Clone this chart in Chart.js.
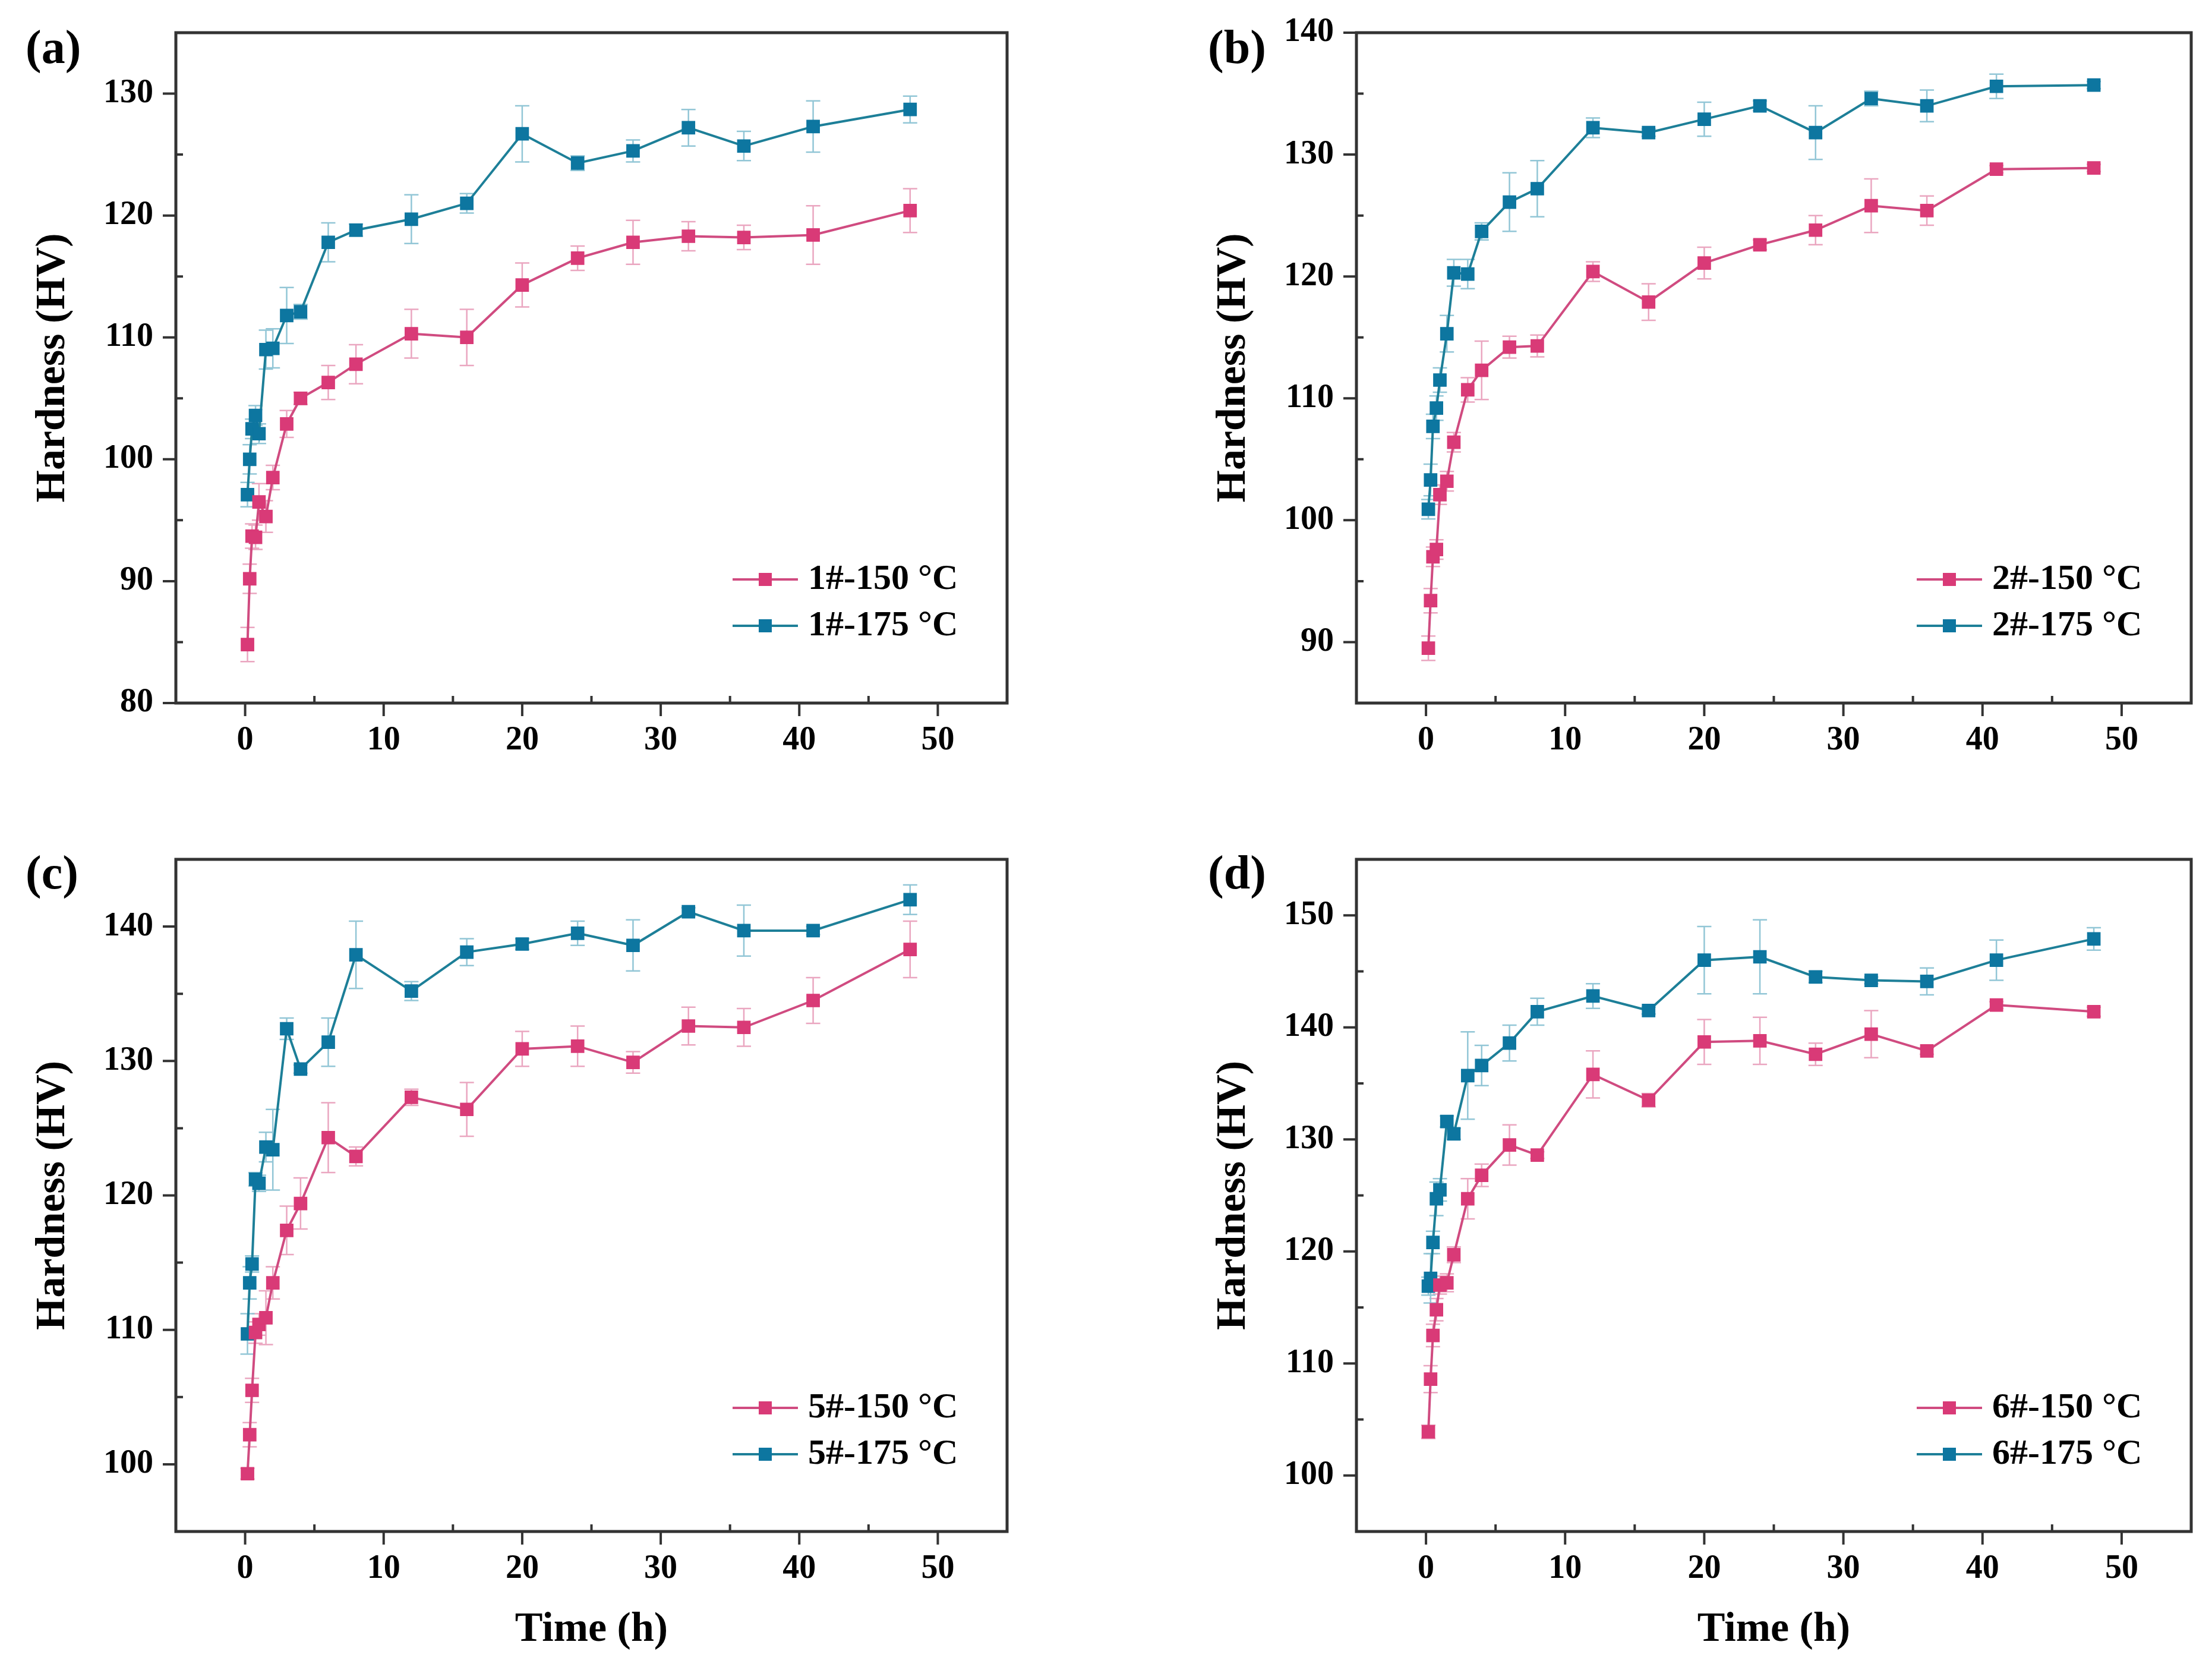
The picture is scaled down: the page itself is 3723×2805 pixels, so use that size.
<!DOCTYPE html>
<html>
<head>
<meta charset="utf-8">
<script src="https://cdn.jsdelivr.net/npm/chart.js@4.4.1/dist/chart.umd.min.js"></script>
<style>
  body { margin: 0; background: #fff; width: 3723px; height: 2805px; position: relative; overflow: hidden; }
  canvas { position: absolute; }
  .tag { position: absolute; font: bold 80px "Liberation Serif", serif; line-height: 80px; color: #000; }
</style>
</head>
<body>
<div class="tag" style="left:43px; top:39px;">(a)</div>
<div class="tag" style="left:2033px; top:39px;">(b)</div>
<div class="tag" style="left:43px; top:1428px;">(c)</div>
<div class="tag" style="left:2033px; top:1428px;">(d)</div>

<canvas id="chartA" width="1800" height="1400" style="left:0; top:0;"></canvas>
<canvas id="chartB" width="1736" height="1400" style="left:1987px; top:0;"></canvas>
<canvas id="chartC" width="1800" height="1405" style="left:0; top:1400px;"></canvas>
<canvas id="chartD" width="1736" height="1405" style="left:1987px; top:1400px;"></canvas>

<script>
// aging time (h), shared by all panels
const times = [0.17, 0.33, 0.5, 0.75, 1, 1.5, 2, 3, 4, 6, 8, 12, 16, 20, 24, 28, 32, 36, 41, 48];
const xTicks = [0, 10, 20, 30, 40, 50];

// (a) alloy 1#
const a150 = [84.8, 90.2, 93.7, 93.6, 96.5, 95.3, 98.5, 102.9, 105.0, 106.3, 107.8, 110.3, 110.0, 114.3, 116.5, 117.8, 118.3, 118.2, 118.4, 120.4];
const a150Err = [1.4, 1.2, 1.0, 1.0, 1.5, 1.3, 1.0, 1.1, 0.5, 1.4, 1.6, 2.0, 2.3, 1.8, 1.0, 1.8, 1.2, 1.0, 2.4, 1.8];
const a175 = [97.1, 100.0, 102.5, 103.6, 102.1, 109.0, 109.1, 111.8, 112.1, 117.8, 118.8, 119.7, 121.0, 126.7, 124.3, 125.3, 127.2, 125.7, 127.3, 128.7];
const a175Err = [1.0, 1.2, 0.8, 0.8, 0.8, 1.6, 1.6, 2.3, 0.6, 1.6, 0.5, 2.0, 0.8, 2.3, 0.6, 0.9, 1.5, 1.2, 2.1, 1.1];
const aTicks = [80, 90, 100, 110, 120, 130];

// (b) alloy 2#
const b150 = [89.5, 93.4, 97.0, 97.6, 102.1, 103.2, 106.4, 110.7, 112.3, 114.2, 114.3, 120.4, 117.9, 121.1, 122.6, 123.8, 125.8, 125.4, 128.8, 128.9];
const b150Err = [1.0, 1.0, 0.8, 0.8, 0.8, 0.8, 0.8, 1.0, 2.4, 0.9, 0.9, 0.8, 1.5, 1.3, 0.4, 1.2, 2.2, 1.2, 0.3, 0.3];
const b175 = [100.9, 103.3, 107.7, 109.2, 111.5, 115.3, 120.3, 120.2, 123.7, 126.1, 127.2, 132.2, 131.8, 132.9, 134.0, 131.8, 134.6, 134.0, 135.6, 135.7];
const b175Err = [0.8, 1.3, 1.0, 1.0, 1.0, 1.5, 1.1, 1.2, 0.7, 2.4, 2.3, 0.8, 0.3, 1.4, 0.4, 2.2, 0.6, 1.3, 1.0, 0.3];
const bTicks = [90, 100, 110, 120, 130, 140];

// (c) alloy 5#
const c150 = [99.3, 102.2, 105.5, 109.8, 110.4, 110.9, 113.5, 117.4, 119.4, 124.3, 122.9, 127.3, 126.4, 130.9, 131.1, 129.9, 132.6, 132.5, 134.5, 138.3];
const c150Err = [0.4, 0.9, 0.9, 0.8, 0.8, 2.0, 1.2, 1.8, 1.9, 2.6, 0.7, 0.6, 2.0, 1.3, 1.5, 0.8, 1.4, 1.4, 1.7, 2.1];
const c175 = [109.7, 113.5, 114.9, 121.2, 120.9, 123.6, 123.4, 132.4, 129.4, 131.4, 137.9, 135.2, 138.1, 138.7, 139.5, 138.6, 141.1, 139.7, 139.7, 142.0];
const c175Err = [1.5, 1.2, 0.6, 0.5, 0.6, 1.1, 3.0, 0.8, 0.3, 1.8, 2.5, 0.7, 1.0, 0.4, 0.9, 1.9, 0.3, 1.9, 0.3, 1.1];
const cTicks = [100, 110, 120, 130, 140];

// (d) alloy 6#
const d150 = [103.9, 108.6, 112.5, 114.8, 117.0, 117.2, 119.7, 124.7, 126.8, 129.5, 128.6, 135.8, 133.5, 138.7, 138.8, 137.6, 139.4, 137.9, 142.0, 141.4];
const d150Err = [0.6, 1.2, 1.0, 1.0, 0.8, 0.8, 0.7, 1.8, 1.0, 1.8, 0.3, 2.1, 0.6, 2.0, 2.1, 1.0, 2.1, 0.3, 0.3, 0.4];
const d175 = [116.9, 117.6, 120.8, 124.7, 125.5, 131.6, 130.5, 135.7, 136.6, 138.6, 141.4, 142.8, 141.5, 146.0, 146.3, 144.5, 144.2, 144.1, 146.0, 147.9];
const d175Err = [0.8, 2.2, 1.0, 1.5, 1.0, 0.5, 0.5, 3.9, 1.8, 1.6, 1.2, 1.1, 0.3, 3.0, 3.3, 0.5, 0.3, 1.2, 1.8, 1.0];
const dTicks = [100, 110, 120, 130, 140, 150];

const PINK = '#d93a77', PINK_LINE = '#d04b80', PINK_ERR = '#eaa6c0';
const TEAL = '#0d76a0', TEAL_LINE = '#1d7f98', TEAL_ERR = '#92c6d6';
const FONT = '"Liberation Serif", "Times New Roman", serif';

function series(label, ys, errs, fill, line, errColor) {
    return {
        label: label,
        data: times.map((t, i) => ({ x: t, y: ys[i] })),
        errors: errs,
        errColor: errColor,
        showLine: true,
        borderColor: line,
        borderWidth: 4,
        pointStyle: 'rect',
        pointRadius: 15,
        pointBackgroundColor: fill,
        pointBorderColor: fill,
        pointBorderWidth: 1.5,
        tension: 0
    };
}

// error bars under the lines, drawn through the scales
const errorBars = {
    id: 'errorBars',
    beforeDatasetsDraw(chart) {
        const { ctx, chartArea, scales: { x, y } } = chart;
        ctx.save();
        ctx.beginPath();
        ctx.rect(chartArea.left, chartArea.top, chartArea.width, chartArea.height);
        ctx.clip();
        chart.data.datasets.forEach(ds => {
            ctx.strokeStyle = ds.errColor;
            ctx.lineWidth = 2.5;
            ds.data.forEach((p, i) => {
                const e = ds.errors[i];
                const px = x.getPixelForValue(p.x);
                const top = y.getPixelForValue(p.y + e);
                const bot = y.getPixelForValue(p.y - e);
                ctx.beginPath();
                ctx.moveTo(px, top); ctx.lineTo(px, bot);
                ctx.moveTo(px - 12, top); ctx.lineTo(px + 12, top);
                ctx.moveTo(px - 12, bot); ctx.lineTo(px + 12, bot);
                ctx.stroke();
            });
        });
        ctx.restore();
    }
};

// box frame, Origin-style ticks (major out, minor in) and legend
const frameAndLegend = {
    id: 'frameAndLegend',
    afterDraw(chart) {
        const { ctx, chartArea: a, scales: { x, y } } = chart;
        ctx.save();
        ctx.strokeStyle = '#333';
        ctx.lineWidth = 4;
        const yMajor = chart.options.plugins.frameAndLegend.yTicks;
        ctx.beginPath();
        xTicks.forEach(v => {
            const px = x.getPixelForValue(v);
            ctx.moveTo(px, a.bottom); ctx.lineTo(px, a.bottom + 22);
            const mx = x.getPixelForValue(v + 5);
            if (v + 5 < x.max) { ctx.moveTo(mx, a.bottom); ctx.lineTo(mx, a.bottom - 12); }
        });
        yMajor.forEach(v => {
            const py = y.getPixelForValue(v);
            ctx.moveTo(a.left, py); ctx.lineTo(a.left - 22, py);
            [v - 5, v + 5].forEach(m => {
                if (m > y.min && m < y.max && !yMajor.includes(m)) {
                    const my = y.getPixelForValue(m);
                    ctx.moveTo(a.left, my); ctx.lineTo(a.left + 12, my);
                }
            });
        });
        ctx.stroke();
        ctx.lineWidth = 5;
        ctx.strokeRect(a.left, a.top, a.right - a.left, a.bottom - a.top);

        // legend, bottom right inside the frame
        ctx.font = 'bold 60px ' + FONT;
        ctx.textBaseline = 'middle';
        ctx.textAlign = 'left';
        chart.data.datasets.forEach((ds, i) => {
            const ly = a.bottom - 208 + i * 78;
            ctx.strokeStyle = ds.borderColor;
            ctx.lineWidth = 4;
            ctx.beginPath();
            ctx.moveTo(a.right - 462, ly); ctx.lineTo(a.right - 352, ly);
            ctx.stroke();
            ctx.fillStyle = ds.pointBackgroundColor;
            ctx.fillRect(a.right - 418, ly - 11, 22, 22);
            ctx.fillStyle = '#000';
            ctx.fillText(ds.label, a.right - 335, ly);
        });
        ctx.restore();
    }
};

function makeChart(id, cfg) {
    const tickFont = { family: FONT, size: 56, weight: 'bold' };
    return new Chart(document.getElementById(id), {
        type: 'scatter',
        data: { datasets: cfg.datasets },
        options: {
            responsive: false,
            devicePixelRatio: 1,
            animation: false,
            layout: { padding: { top: cfg.padTop, right: cfg.padRight, left: 0, bottom: 0 } },
            scales: {
                x: {
                    type: 'linear', min: -5, max: 55,
                    afterBuildTicks: s => { s.ticks = xTicks.map(v => ({ value: v })); },
                    afterFit: s => { s.height = cfg.xAxisH; s.paddingLeft = 0; s.paddingRight = 0; },
                    grid: { display: false, drawTicks: false },
                    border: { display: false },
                    ticks: { font: tickFont, color: '#000', padding: 30, maxRotation: 0 },
                    title: {
                        display: cfg.showTime, text: 'Time (h)', color: '#000',
                        font: { family: FONT, size: 70, weight: 'bold' },
                        padding: { top: 0, bottom: 20 }
                    }
                },
                y: {
                    type: 'linear', min: cfg.yMin, max: cfg.yMax,
                    afterBuildTicks: s => { s.ticks = cfg.yTicks.map(v => ({ value: v })); },
                    afterFit: s => { s.width = 296; s.paddingTop = 0; s.paddingBottom = 0; },
                    grid: { display: false, drawTicks: false },
                    border: { display: false },
                    ticks: { font: tickFont, color: '#000', padding: 38 },
                    title: {
                        display: true, text: 'Hardness (HV)', color: '#000',
                        font: { family: FONT, size: 70, weight: 'bold' },
                        padding: { top: 48, bottom: 0 }
                    }
                }
            },
            plugins: {
                legend: { display: false },
                tooltip: { enabled: false },
                frameAndLegend: { yTicks: cfg.yTicks }
            }
        },
        plugins: [errorBars, frameAndLegend]
    });
}

window.onload = function() {
    makeChart('chartA', {
        datasets: [
            series('1#-150 °C', a150, a150Err, PINK, PINK_LINE, PINK_ERR),
            series('1#-175 °C', a175, a175Err, TEAL, TEAL_LINE, TEAL_ERR)
        ],
        yMin: 80, yMax: 135, yTicks: aTicks,
        padTop: 55, padRight: 105, xAxisH: 217, showTime: false
    });
    makeChart('chartB', {
        datasets: [
            series('2#-150 °C', b150, b150Err, PINK, PINK_LINE, PINK_ERR),
            series('2#-175 °C', b175, b175Err, TEAL, TEAL_LINE, TEAL_ERR)
        ],
        yMin: 85, yMax: 140, yTicks: bTicks,
        padTop: 55, padRight: 35, xAxisH: 217, showTime: false
    });
    makeChart('chartC', {
        datasets: [
            series('5#-150 °C', c150, c150Err, PINK, PINK_LINE, PINK_ERR),
            series('5#-175 °C', c175, c175Err, TEAL, TEAL_LINE, TEAL_ERR)
        ],
        yMin: 95, yMax: 145, yTicks: cTicks,
        padTop: 46, padRight: 105, xAxisH: 228, showTime: true
    });
    makeChart('chartD', {
        datasets: [
            series('6#-150 °C', d150, d150Err, PINK, PINK_LINE, PINK_ERR),
            series('6#-175 °C', d175, d175Err, TEAL, TEAL_LINE, TEAL_ERR)
        ],
        yMin: 95, yMax: 155, yTicks: dTicks,
        padTop: 46, padRight: 35, xAxisH: 228, showTime: true
    });
};
</script>
</body>
</html>
